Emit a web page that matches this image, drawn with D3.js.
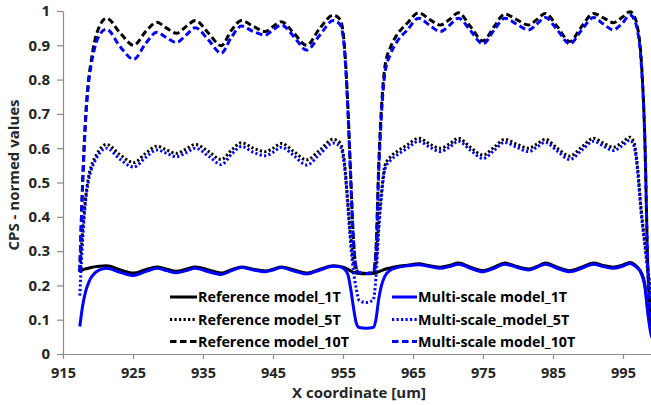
<!DOCTYPE html>
<html>
<head>
<meta charset="utf-8">
<script src="https://cdn.jsdelivr.net/npm/d3@7"></script>
<style>
  html, body { margin: 0; padding: 0; background: #fff; }
  svg { display: block; }
  text { font-family: "Open Sans", "Liberation Sans", sans-serif; font-weight: bold; }
</style>
</head>
<body>
<svg id="chart" width="651" height="405"></svg>
<script>
// ---------------- DATA ----------------
const xCoord = [917.4, 917.8, 918.2, 918.6, 919.0, 919.5, 920.2, 921.2, 923.2, 925.1,
  926.8, 928.4, 929.8, 931.2, 932.6, 933.9, 935.8, 937.6, 939.1, 940.5,
  942.2, 943.9, 945.0, 946.2, 948.0, 949.8, 951.7, 953.6, 954.6, 955.2,
  955.7, 956.1, 956.5, 956.9, 957.3, 958.3, 959.3, 959.7, 960.1, 960.5,
  961.0, 961.8, 962.7, 964.2, 965.8, 967.4, 968.9, 970.2, 971.5, 973.2,
  975.0, 976.6, 978.1, 979.8, 981.5, 982.7, 983.9, 985.6, 987.4, 989.1,
  990.8, 992.2, 993.6, 994.8, 996.0, 996.6, 997.1, 997.6, 998.1, 998.6,
  999.1, 999.6];

const ref1T = [0.240, 0.245, 0.248, 0.250, 0.252, 0.254, 0.256, 0.257, 0.245, 0.236,
  0.246, 0.254, 0.247, 0.241, 0.247, 0.254, 0.245, 0.236, 0.246, 0.254,
  0.247, 0.242, 0.247, 0.254, 0.245, 0.236, 0.247, 0.257, 0.255, 0.252,
  0.247, 0.242, 0.238, 0.236, 0.235, 0.234, 0.235, 0.237, 0.240, 0.243,
  0.247, 0.251, 0.255, 0.259, 0.263, 0.257, 0.253, 0.258, 0.265, 0.253,
  0.243, 0.253, 0.265, 0.255, 0.248, 0.255, 0.265, 0.253, 0.243, 0.253,
  0.265, 0.258, 0.253, 0.258, 0.267, 0.262, 0.252, 0.238, 0.205, 0.120,
  0.060, 0.050];

const ref5T = [0.240, 0.360, 0.450, 0.510, 0.545, 0.570, 0.595, 0.611, 0.580, 0.558,
  0.585, 0.606, 0.595, 0.585, 0.598, 0.611, 0.590, 0.567, 0.595, 0.616,
  0.600, 0.590, 0.600, 0.614, 0.590, 0.566, 0.595, 0.626, 0.615, 0.560,
  0.440, 0.340, 0.270, 0.245, 0.237, 0.235, 0.237, 0.260, 0.380, 0.470,
  0.550, 0.575, 0.590, 0.610, 0.629, 0.612, 0.600, 0.612, 0.629, 0.603,
  0.580, 0.603, 0.626, 0.612, 0.600, 0.612, 0.626, 0.600, 0.577, 0.603,
  0.629, 0.615, 0.603, 0.615, 0.632, 0.615, 0.540, 0.420, 0.330, 0.240,
  0.170, 0.120];

const ref10T = [0.240, 0.500, 0.680, 0.790, 0.850, 0.910, 0.955, 0.979, 0.935, 0.900,
  0.940, 0.967, 0.950, 0.935, 0.955, 0.972, 0.935, 0.899, 0.945, 0.972,
  0.955, 0.940, 0.955, 0.969, 0.935, 0.900, 0.950, 0.988, 0.975, 0.900,
  0.720, 0.520, 0.330, 0.250, 0.237, 0.235, 0.237, 0.300, 0.550, 0.720,
  0.840, 0.895, 0.930, 0.965, 0.995, 0.975, 0.959, 0.975, 0.995, 0.955,
  0.913, 0.955, 0.991, 0.975, 0.959, 0.975, 0.993, 0.955, 0.911, 0.955,
  0.993, 0.980, 0.966, 0.980, 0.998, 0.985, 0.950, 0.860, 0.640, 0.220,
  0.100, 0.050];

const ms1T = [0.080, 0.140, 0.180, 0.205, 0.222, 0.235, 0.245, 0.250, 0.238, 0.229,
  0.240, 0.250, 0.243, 0.237, 0.243, 0.250, 0.240, 0.232, 0.243, 0.252,
  0.245, 0.240, 0.245, 0.252, 0.242, 0.233, 0.245, 0.256, 0.254, 0.247,
  0.232, 0.190, 0.135, 0.090, 0.077, 0.075, 0.077, 0.100, 0.160, 0.200,
  0.228, 0.245, 0.252, 0.257, 0.260, 0.255, 0.250, 0.255, 0.262, 0.250,
  0.240, 0.250, 0.262, 0.253, 0.245, 0.253, 0.262, 0.250, 0.240, 0.250,
  0.262, 0.255, 0.250, 0.255, 0.264, 0.258, 0.250, 0.235, 0.200, 0.110,
  0.050, 0.040];

const ms5T = [0.170, 0.330, 0.440, 0.500, 0.535, 0.560, 0.585, 0.600, 0.567, 0.545,
  0.573, 0.595, 0.585, 0.575, 0.587, 0.600, 0.577, 0.552, 0.583, 0.605,
  0.588, 0.578, 0.588, 0.603, 0.578, 0.551, 0.583, 0.615, 0.605, 0.550,
  0.430, 0.320, 0.240, 0.190, 0.157, 0.150, 0.157, 0.220, 0.360, 0.460,
  0.540, 0.565, 0.580, 0.600, 0.620, 0.603, 0.590, 0.603, 0.620, 0.594,
  0.570, 0.594, 0.617, 0.603, 0.590, 0.603, 0.617, 0.592, 0.567, 0.594,
  0.620, 0.606, 0.593, 0.606, 0.623, 0.605, 0.530, 0.410, 0.320, 0.230,
  0.160, 0.110];

const ms10T = [0.240, 0.490, 0.670, 0.780, 0.840, 0.890, 0.930, 0.947, 0.895, 0.859,
  0.905, 0.938, 0.922, 0.908, 0.930, 0.951, 0.915, 0.877, 0.925, 0.956,
  0.940, 0.930, 0.945, 0.959, 0.925, 0.886, 0.930, 0.972, 0.960, 0.890,
  0.710, 0.510, 0.330, 0.250, 0.237, 0.235, 0.237, 0.290, 0.530, 0.700,
  0.820, 0.875, 0.910, 0.945, 0.979, 0.958, 0.940, 0.958, 0.979, 0.943,
  0.904, 0.945, 0.979, 0.962, 0.945, 0.962, 0.981, 0.945, 0.904, 0.945,
  0.981, 0.962, 0.945, 0.962, 0.988, 0.975, 0.940, 0.850, 0.640, 0.220,
  0.100, 0.050];

const seriesNames = ["Reference model_1T", "Reference model_5T", "Reference model_10T",
  "Multi-scale model_1T", "Multi-scale_model_5T", "Multi-scale model_10T"];

const xTicks = [915, 925, 935, 945, 955, 965, 975, 985, 995];
const yTicks = [0, 0.1, 0.2, 0.3, 0.4, 0.5, 0.6, 0.7, 0.8, 0.9, 1];

const xTitle = "X coordinate [um]";
const yTitle = "CPS - normed values";

// ---------------- STYLE ----------------
const BLUE = "#0000ff", BLACK = "#000000";
const DASH = "6.5,3.5", DOT = "2.2,2.3";
const series = [
  { name: seriesNames[0], values: ref1T,  color: BLACK, dash: null },
  { name: seriesNames[1], values: ref5T,  color: BLACK, dash: DOT },
  { name: seriesNames[2], values: ref10T, color: BLACK, dash: DASH },
  { name: seriesNames[3], values: ms1T,   color: BLUE,  dash: null },
  { name: seriesNames[4], values: ms5T,   color: BLUE,  dash: DOT },
  { name: seriesNames[5], values: ms10T,  color: BLUE,  dash: DASH }
];

const W = 651, H = 405;
const mLeft = 63, mTop = 11, mBottom = 354;
const svg = d3.select("#chart");

const x = d3.scaleLinear().domain([915, 1005]).range([mLeft, mLeft + 90 * 7]);
const y = d3.scaleLinear().domain([0, 1]).range([mBottom, mTop]);

const AXIS = "#8c8c8c", LABEL = "#262626";

// Y axis
const yAxis = svg.append("g").attr("transform", `translate(${mLeft},0)`)
  .call(d3.axisLeft(y).tickValues(yTicks).tickSize(6).tickSizeOuter(0).tickPadding(7)
    .tickFormat(d => d3.format("~g")(d)));
yAxis.select(".domain").attr("stroke", AXIS).attr("stroke-width", 1.2);
yAxis.selectAll(".tick line").attr("stroke", AXIS).attr("stroke-width", 1.2);
yAxis.selectAll(".tick text").attr("fill", LABEL).style("font-size", "15px")
  .style("font-family", '"Open Sans", sans-serif').style("font-weight", "bold");

// X axis
const xAxis = svg.append("g").attr("transform", `translate(0,${mBottom})`)
  .call(d3.axisBottom(x).tickValues(xTicks).tickSize(5).tickSizeOuter(0).tickPadding(9));
xAxis.select(".domain").attr("stroke", AXIS).attr("stroke-width", 1.2);
xAxis.selectAll(".tick line").attr("stroke", AXIS).attr("stroke-width", 1.2);
xAxis.selectAll(".tick text").attr("fill", LABEL).style("font-size", "14.5px")
  .style("font-family", '"Open Sans", sans-serif').style("font-weight", "bold");

// Titles
svg.append("text").attr("x", 359).attr("y", 398).attr("text-anchor", "middle")
  .attr("fill", LABEL).style("font-size", "15px").text(xTitle);
svg.append("text").attr("transform", `translate(19,175) rotate(-90)`)
  .attr("text-anchor", "middle").attr("fill", LABEL).style("font-size", "15px").text(yTitle);

// Clip
svg.append("clipPath").attr("id", "plotclip").append("rect")
  .attr("x", mLeft).attr("y", 0).attr("width", W - mLeft).attr("height", mBottom);

const line = d3.line()
  .x((d, i) => x(xCoord[i]))
  .y(d => y(d))
  .curve(d3.curveMonotoneX);

const g = svg.append("g").attr("clip-path", "url(#plotclip)");
series.forEach(s => {
  g.append("path").datum(s.values)
    .attr("d", line)
    .attr("fill", "none")
    .attr("stroke", s.color)
    .attr("stroke-width", 3)
    .attr("stroke-dasharray", s.dash)
    .attr("stroke-linejoin", "round");
});

// Legend: two columns (reference | multi-scale), three rows (1T, 5T, 10T)
const legCols = [{ lx: 170, tx: 198 }, { lx: 392, tx: 418 }];
const legRowY = [297, 319.5, 341.5];
series.forEach((s, i) => {
  const col = legCols[Math.floor(i / 3)];
  const ry = legRowY[i % 3];
  const lg = svg.append("g");
  lg.append("line").attr("x1", col.lx).attr("x2", col.tx - 1)
    .attr("y1", ry).attr("y2", ry)
    .attr("stroke", s.color).attr("stroke-width", 3)
    .attr("stroke-dasharray", s.dash);
  lg.append("text").attr("x", col.tx).attr("y", ry + 5)
    .attr("fill", BLACK).style("font-size", "14.3px").text(s.name);
});
</script>
</body>
</html>
